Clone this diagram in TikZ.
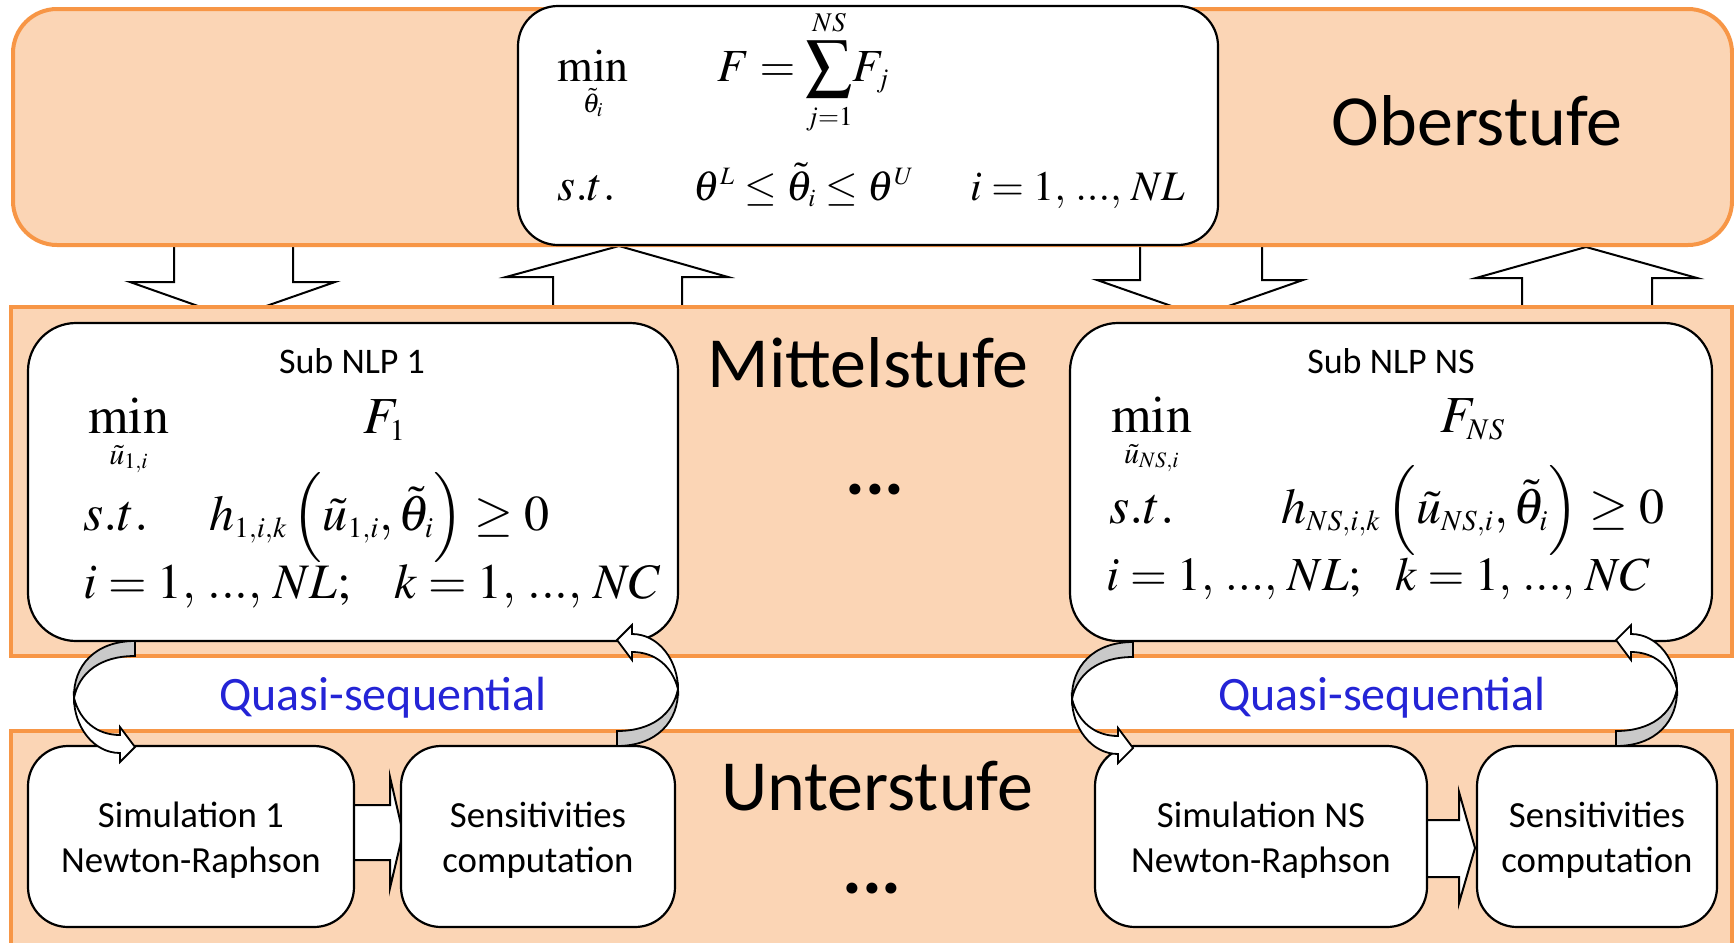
\documentclass[tikz,border=0pt]{standalone}
\usepackage{mathptmx}
\usepackage[no-math]{fontspec}
\setmainfont{Carlito}
\DeclareMathSizes{21}{21}{12.5}{9}
\DeclareMathSizes{23}{23}{13.5}{10}
\DeclareMathSizes{25}{25}{14.5}{10.5}
\DeclareMathSizes{26}{26}{15}{11}
\definecolor{bandfill}{HTML}{FBD5B5}
\definecolor{bandline}{HTML}{F79646}
\definecolor{qblue}{HTML}{2424D6}
\definecolor{tailgray}{HTML}{C9C9C9}
\newcommand\mA{\fontsize{23}{28}\selectfont\thickmuskip=4mu\relax}
\newcommand\mAs{\fontsize{21}{26}\selectfont\thickmuskip=4mu\relax}
\newcommand\mB{\fontsize{26}{32}\selectfont\thickmuskip=4mu\relax}
\newcommand\mBh{\fontsize{25}{30}\selectfont\thickmuskip=4mu\relax}
\newcommand\mBr{\fontsize{24.8}{30}\selectfont\thickmuskip=4mu\relax}
\newcommand\mBn{\fontsize{23.7}{29}\selectfont\thickmuskip=4mu\relax}
\newcommand\tdots{{.}{.}{.}}
\newcommand\qsarrow{%
  \filldraw[fill=white,draw=black,line width=0.9pt,line join=miter]
    (-61,57) .. controls (-61,85) and (-42,112) .. (-15,112) -- (-15,121) -- (0,106) -- (-15,86) -- (-15,94)
    .. controls (-38,94) and (-55,80) .. (-61,57) -- cycle;
  \filldraw[fill=tailgray,draw=black,line width=0.9pt]
    (0,0) .. controls (-40,0) and (-62,25) .. (-61,57) .. controls (-56,32) and (-35,15) .. (0,15) -- cycle;
}
\begin{document}
\begin{tikzpicture}[x=0.5pt,y=-0.5pt,
  band/.style={draw=bandline, fill=bandfill, line width=2pt},
  wbox/.style={draw=black, fill=white, line width=1.1pt, inner sep=0pt},
  blk/.style={draw=black, fill=white, line width=1pt, line join=miter},
  lvl/.style={font=\fontsize{36}{43}\selectfont, inner sep=0pt, anchor=base},
  dots/.style={font=\fontsize{37}{43}\selectfont\bfseries, inner sep=0pt, anchor=base},
  qs/.style={font=\fontsize{24}{29}\selectfont, text=qblue, inner sep=0pt, anchor=base},
  subt/.style={font=\fontsize{18}{22}\selectfont, inner sep=0pt, anchor=base},
  lowtxt/.style={font=\fontsize{18.4}{22.5}\selectfont, align=center},
  mth/.style={inner sep=0pt, anchor=base west}]
\useasboundingbox (0,0) rectangle (1734,942);

% block arrows between Oberstufe and Mittelstufe
\draw[blk] (174,240) -- (174,282) -- (130,282) -- (232,318) -- (335,282) -- (293,282) -- (293,240) -- cycle;
\draw[blk] (553,312) -- (553,277) -- (506,277) -- (619,246) -- (728,277) -- (682,277) -- (682,312) -- cycle;
\draw[blk] (1140,240) -- (1140,280) -- (1097,280) -- (1200,316) -- (1303,280) -- (1262,280) -- (1262,240) -- cycle;
\draw[blk] (1522,312) -- (1522,278) -- (1476,278) -- (1586,247) -- (1697,278) -- (1652,278) -- (1652,312) -- cycle;

% bands
\draw[band, rounded corners=22pt] (13,9) rectangle (1732,245);
\draw[band] (11,307) rectangle (1732,656);
\draw[band] (11,731) rectangle (1732,990);

% block arrows in Unterstufe
\draw[blk] (345,805) -- (390,805) -- (390,777) -- (403,833) -- (390,888) -- (390,860) -- (345,860) -- cycle;
\draw[blk] (1420,820) -- (1459,820) -- (1459,792) -- (1475,848) -- (1459,903) -- (1459,877) -- (1420,877) -- cycle;

% boxes
\node[wbox, rounded corners=20pt, minimum width=350pt, minimum height=119.5pt] (top) at (868,125.5) {};
\node[wbox, rounded corners=24pt, minimum width=325pt, minimum height=159pt] (sub1) at (353,482) {};
\node[wbox, rounded corners=24pt, minimum width=321pt, minimum height=159pt] (subns) at (1391,482) {};
\node[wbox, rounded corners=20pt, minimum width=163pt, minimum height=90.5pt, lowtxt] (sim1) at (191,836.5) {\rule{0pt}{16pt}Simulation 1\\Newton-Raphson};
\node[wbox, rounded corners=20pt, minimum width=137pt, minimum height=90.5pt, lowtxt] (sens1) at (538,836.5) {\rule{0pt}{16pt}Sensitivities\\computation};
\node[wbox, rounded corners=20pt, minimum width=166pt, minimum height=90.5pt, lowtxt] (simns) at (1261,836.5) {\rule{0pt}{16pt}Simulation NS\\Newton-Raphson};
\node[wbox, rounded corners=20pt, minimum width=120pt, minimum height=90.5pt, lowtxt] (sensns) at (1597,836.5) {\rule{0pt}{16pt}Sensitivities\\computation};

% quasi-sequential curved arrows
\begin{scope}[shift={(135,641)}]\qsarrow\end{scope}
\begin{scope}[shift={(617,746)},rotate=180]\qsarrow\end{scope}
\begin{scope}[shift={(1133,642)}]\qsarrow\end{scope}
\begin{scope}[shift={(1616,746)},rotate=180]\qsarrow\end{scope}

% level titles
\node[lvl] (ober) at (1477,145) {Oberstufe};
\node[lvl] (mittel) at (868,387) {Mittelstufe};
\node[lvl] (unter) at (877,810) {Unterstufe};
\node[dots] (dotsm) at (875,494) {...};
\node[dots] (dotsu) at (872,893) {...};
\node[qs] (qs1) at (383,710) {Quasi-sequential};
\node[qs] (qs2) at (1382,710) {Quasi-sequential};
\node[subt] (sub1t) at (352,373) {Sub NLP 1};
\node[subt] (subnst) at (1391,373) {Sub NLP NS};

% top problem
\node[mth] (tmin) at (557,81) {\mA $\min\limits_{\tilde\theta_i}$};
\node[mth] (tobj) at (717,81) {\mA $F=\displaystyle\sum_{j=1}^{NS}\!F_j$};
\node[mth] (tst) at (557,200) {\mA $s.t.$};
\node[mth] (tcon) at (693,200) {\mAs $\theta^L\le\tilde\theta_i\le\theta^U$};
\node[mth] (trng) at (970,200) {\mAs $i=1,\,\tdots,\,NL$};

% sub NLP 1
\node[mth] (amin) at (88,433) {\mB $\min\limits_{\tilde u_{1,i}}$};
\node[mth] (aobj) at (363,433) {\mB $F_1$};
\node[mth] (ast) at (83,530) {\mB $s.t.$};
\node[mth] (acon) at (209,530) {\mBh $h_{1,i,k}\left(\vrule height24pt depth12pt width0pt\tilde u_{1,i},\tilde\theta_i\right)\ge 0$};
\node[mth] (arng) at (83,598) {\mBr $i=1,\,\tdots,\,NL;\hskip19pt k=1,\,\tdots,\,NC$};

% sub NLP NS
\node[mth] (bmin) at (1111,432) {\mB $\min\limits_{\tilde u_{NS,i}}$};
\node[mth] (bobj) at (1440,432) {\mB $F_{NS}$};
\node[mth] (bst) at (1109,523) {\mB $s.t.$};
\node[mth] (bcon) at (1281,523) {\mBh $h_{NS,i,k}\left(\vrule height24pt depth12pt width0pt\tilde u_{NS,i},\tilde\theta_i\right)\ge 0$};
\node[mth] (brng) at (1106,590) {\mBn $i=1,\,\tdots,\,NL;\hskip14pt k=1,\,\tdots,\,NC$};
\end{tikzpicture}
\end{document}
